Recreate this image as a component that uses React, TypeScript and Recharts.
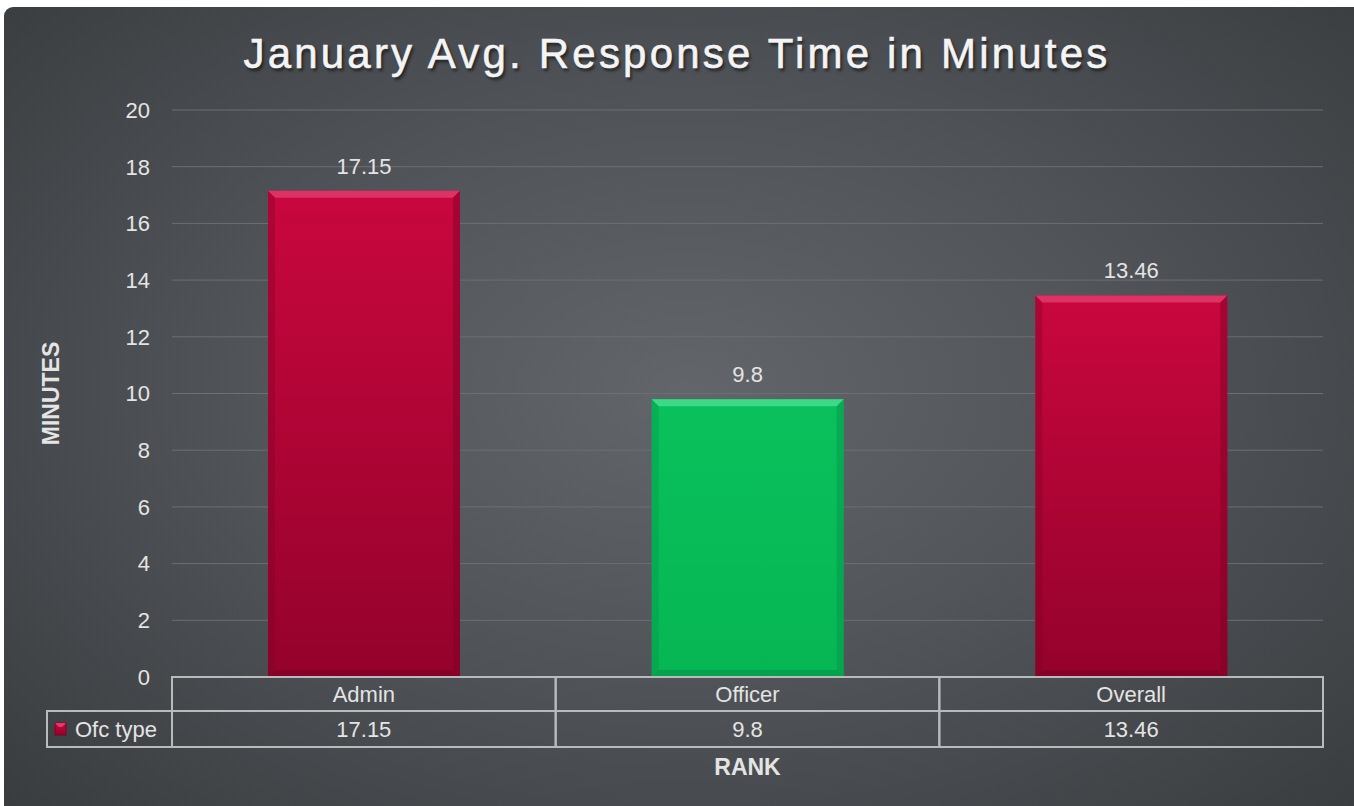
import { Bar, BarChart, CartesianGrid, LabelList, XAxis, YAxis } from "recharts";

const RANKS = ["Admin", "Officer", "Overall"];
const RESPONSE_MINUTES = [17.15, 9.8, 13.46];
const Y_TICKS = [0, 2, 4, 6, 8, 10, 12, 14, 16, 18, 20];
const SERIES_NAME = "Ofc type";

const data = RANKS.map((rank, i) => ({ rank, value: RESPONSE_MINUTES[i] }));

const W = 1354;
const H = 806;
const PLOT_LEFT = 172;
const PLOT_RIGHT = 1323;
const PLOT_TOP = 110;
const PLOT_BOTTOM = 677;
const PLOT_W = PLOT_RIGHT - PLOT_LEFT;

const TEXT = "#e4e4e4";
const BORDER = "#b9babc";
const FONT = "'Liberation Sans', Arial, sans-serif";

const BAR_STYLE = [
  { id: "red", top: "#c9073f", bottom: "#94022b", light: "#e23a6c", dark: "#7d0224" },
  { id: "green", top: "#09c15c", bottom: "#06b653", light: "#45dd8e", dark: "#05934a" },
  { id: "red", top: "#c9073f", bottom: "#94022b", light: "#e23a6c", dark: "#7d0224" },
];

function BevelBar(props: any) {
  const { x, y, width, height, index } = props;
  const s = BAR_STYLE[index];
  const b = 7;
  return (
    <g>
      <rect x={x} y={y} width={width} height={height} fill={`url(#grad-${s.id})`} />
      <polygon
        points={`${x},${y} ${x + width},${y} ${x + width - b},${y + b} ${x + b},${y + b}`}
        fill={s.light}
        opacity={0.85}
      />
      <polygon
        points={`${x},${y} ${x + b},${y + b} ${x + b},${y + height - b} ${x},${y + height}`}
        fill={s.dark}
        opacity={0.35}
      />
      <polygon
        points={`${x + width},${y} ${x + width - b},${y + b} ${x + width - b},${y + height - b} ${x + width},${y + height}`}
        fill={s.dark}
        opacity={0.45}
      />
      <polygon
        points={`${x},${y + height} ${x + b},${y + height - b} ${x + width - b},${y + height - b} ${x + width},${y + height}`}
        fill={s.dark}
        opacity={0.6}
      />
    </g>
  );
}

function TableTick(props: any) {
  const { x, y, index, payload } = props;
  const cw = PLOT_W / RANKS.length;
  const left = x - cw / 2;
  return (
    <g>
      <rect x={left} y={y} width={cw} height={34} fill="none" stroke={BORDER} strokeWidth={2} />
      <text x={x} y={y + 17} textAnchor="middle" dominantBaseline="central" fill={TEXT} fontSize={22} fontFamily={FONT}>
        {payload.value}
      </text>
      <rect x={left} y={y + 34} width={cw} height={36} fill="none" stroke={BORDER} strokeWidth={2} />
      <text x={x} y={y + 52} textAnchor="middle" dominantBaseline="central" fill={TEXT} fontSize={22} fontFamily={FONT}>
        {RESPONSE_MINUTES[index]}
      </text>
      {index === 0 && (
        <g>
          <rect x={47} y={y + 34} width={left - 47} height={36} fill="none" stroke={BORDER} strokeWidth={2} />
          <rect x={55} y={y + 46} width={11} height={12} fill="url(#grad-red)" stroke="#7d0224" strokeWidth={1} />
          <polygon points={`55,${y + 46} 66,${y + 46} 62,${y + 50} 59,${y + 50}`} fill="#e23a6c" />
          <text x={75} y={y + 52} dominantBaseline="central" fill={TEXT} fontSize={22} fontFamily={FONT}>
            {SERIES_NAME}
          </text>
        </g>
      )}
    </g>
  );
}

export default function App() {
  return (
    <div style={{ position: "absolute", left: 0, top: 0, width: W, height: H, background: "#ffffff", overflow: "hidden" }}>
      <div
        style={{
          position: "absolute",
          left: 4,
          top: 7,
          width: W + 10,
          height: H + 10,
          borderRadius: 9,
          background: "radial-gradient(ellipse 70% 75% at 50% 47%, #626569 0%, #515458 45%, #393c3f 100%)",
        }}
      />
      <div
        style={{
          position: "absolute",
          left: 0,
          top: 33,
          width: 1354,
          textAlign: "center",
          fontFamily: FONT,
          fontSize: 42,
          lineHeight: "42px",
          letterSpacing: 3.2,
          color: "#f4f4f4",
          WebkitTextStroke: "0.6px #f4f4f4",
          textShadow: "2px 3px 3px rgba(0,0,0,0.55)",
        }}
      >
        January Avg. Response Time in Minutes
      </div>
      <div style={{ position: "absolute", left: 0, top: 0 }}>
        <BarChart
          width={W}
          height={H}
          data={data}
          margin={{ top: PLOT_TOP, right: W - PLOT_RIGHT, left: 0, bottom: 0 }}
          barSize={192}
        >
          <defs>
            {BAR_STYLE.slice(0, 2).map((s) => (
              <linearGradient key={s.id} id={`grad-${s.id}`} x1="0" y1="0" x2="0" y2="1">
                <stop offset="0%" stopColor={s.top} />
                <stop offset="100%" stopColor={s.bottom} />
              </linearGradient>
            ))}
          </defs>
          <CartesianGrid vertical={false} stroke="#6c6f73" strokeWidth={1} />
          <YAxis
            width={PLOT_LEFT}
            domain={[0, 20]}
            ticks={Y_TICKS}
            interval={0}
            axisLine={false}
            tickLine={false}
            tickSize={0}
            tickMargin={22}
            tick={{ fill: TEXT, fontSize: 22, fontFamily: FONT }}
            label={{
              content: () => (
                <text
                  x={59}
                  y={(PLOT_TOP + PLOT_BOTTOM) / 2}
                  transform={`rotate(-90 59 ${(PLOT_TOP + PLOT_BOTTOM) / 2})`}
                  textAnchor="middle"
                  fill={TEXT}
                  fontSize={23}
                  fontWeight="bold"
                  fontFamily={FONT}
                >
                  MINUTES
                </text>
              ),
            }}
          />
          <XAxis
            dataKey="rank"
            height={H - PLOT_BOTTOM}
            interval={0}
            axisLine={false}
            tickLine={false}
            tickSize={0}
            tickMargin={0}
            tick={<TableTick />}
            label={{
              value: "RANK",
              position: "insideBottom",
              offset: 31,
              fill: TEXT,
              fontSize: 23,
              fontWeight: "bold",
              fontFamily: FONT,
            }}
          />
          <Bar dataKey="value" shape={<BevelBar />} isAnimationActive={false}>
            <LabelList dataKey="value" position="top" offset={17} fill={TEXT} fontSize={22} fontFamily={FONT} />
          </Bar>
        </BarChart>
      </div>
    </div>
  );
}
